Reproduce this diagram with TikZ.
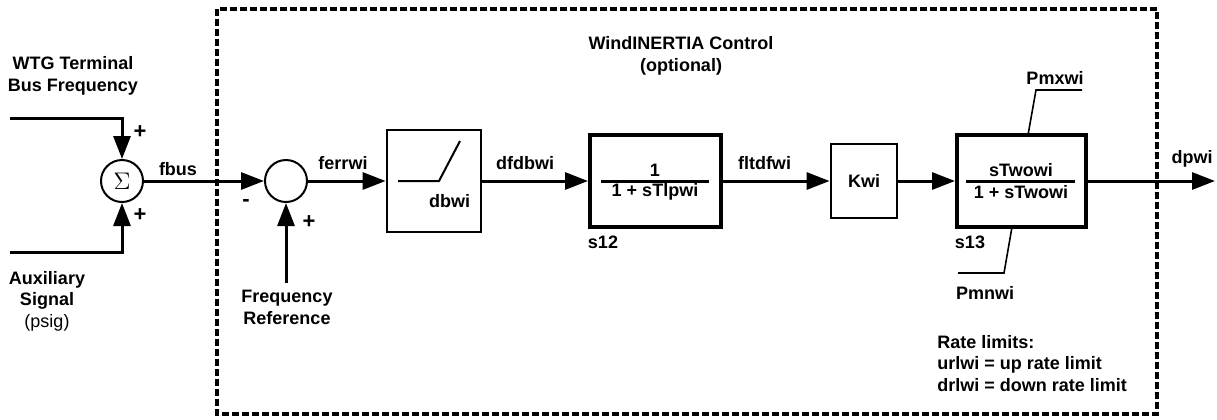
\documentclass[tikz,border=0pt]{standalone}
\usepackage{fontspec}
\setmainfont{Liberation Sans}
\usetikzlibrary{arrows.meta,positioning}
\definecolor{Ink}{HTML}{000000}

\begin{document}
\begin{tikzpicture}[x=0.5pt,y=-0.5pt,Ink,
  font=\fontsize{9}{10.75}\selectfont\bfseries,
  sig/.style={line width=1.5pt,-{Triangle[length=11.5pt,width=8.5pt]}},
  blk/.style={draw,line width=1.4pt,inner sep=0pt},
  sumpt/.style={draw,circle,line width=1pt,inner sep=0pt},
  lim/.style={line width=0.8pt},
  sgn/.style={font=\fontsize{11}{12}\selectfont\bfseries},
  ctlframe/.style={line width=2pt,dash pattern=on 3.5pt off 1.5pt}]
  \useasboundingbox (0,0) rectangle (1217,419);
  % control frame
  \draw[ctlframe] (217,9) rectangle (1157,414);
  \node[align=center] (title) at (681,56) {WindINERTIA Control\\(optional)};
  % inputs
  \coordinate (inbus) at (10,118);
  \coordinate (inaux) at (10,252);
  \node[align=center] (buslab) at (73,76) {WTG Terminal\\Bus Frequency};
  \node[align=center] (auxlab) at (47,301) {Auxiliary\\Signal\\{\mdseries(psig)}};
  \node[sumpt,minimum size=21pt] (sum1) at (122,181) {\fontsize{12}{12}\selectfont$\Sigma$};
  \node[sgn] at (140,132) {+};
  \node[sgn] at (140,215) {+};
  \node[sumpt,minimum size=21pt] (sum2) at (286,181) {};
  \node[sgn] at (246,203) {-};
  \node[sgn] at (309,222) {+};
  \coordinate (fref) at (286,283);
  \node[align=center] (reflab) at (287,307.5) {Frequency\\Reference};
  % blocks
  \node[blk,minimum width=47pt,minimum height=51pt] (db) at (434,181) {};
  \node[blk,line width=2pt,minimum width=65.5pt,minimum height=46pt] (lp) at (655.5,181) {};
  \node[blk,minimum width=33pt,minimum height=37pt] (kwi) at (864,181) {Kwi};
  \node[blk,line width=2pt,minimum width=64.5pt,minimum height=46pt] (wo) at (1021.5,181) {};
  \coordinate (out) at (1215,181);
  % deadband
  \draw[line width=1pt] (398,181) -- (439,181) -- (460,141);
  \node at (449.5,201) {dbwi};
  % lag and washout fractions
  \draw[line width=1.5pt] ([xshift=6.5pt]lp.west) -- ([xshift=-7pt]lp.east);
  \node at (655,170) {1};
  \node at (655,192) {1 + sTlpwi};
  \node at (603,242) {s12};
  \draw[line width=1.5pt] ([xshift=5.5pt]wo.west) -- ([xshift=-6.5pt]wo.east);
  \node at (1021,170) {sTwowi};
  \node at (1021,192.5) {1 + sTwowi};
  \node at (970,242.5) {s13};
  \draw[lim] (1028,135) -- (1036,90) -- (1082,90);
  \node at (1055,77.5) {Pmxwi};
  \draw[lim] (1012,227) -- (1004,273) -- (958,273);
  \node at (985,292.5) {Pmnwi};
  % signals
  \draw[sig] (inbus) -| (sum1.north);
  \draw[sig] (inaux) -| (sum1.south);
  \draw[sig] (sum1) -- (sum2);
  \draw[sig] (fref) -- (sum2.south);
  \draw[sig] (sum2) -- (db);
  \draw[sig] (db) -- (lp);
  \draw[sig] (lp) -- (kwi);
  \draw[sig] (kwi) -- (wo);
  \draw[sig] (wo.east |- out) -- (out);
  \node at (178,169) {fbus};
  \node at (343,163) {ferrwi};
  \node at (525,163) {dfdbwi};
  \node at (764.5,163) {fltdfwi};
  \node at (1192,159) {dpwi};
  \node[align=left,anchor=west,inner sep=0pt] (rates) at (937,363.5) {Rate limits:\\urlwi = up rate limit\\drlwi = down rate limit};
\end{tikzpicture}
\end{document}
